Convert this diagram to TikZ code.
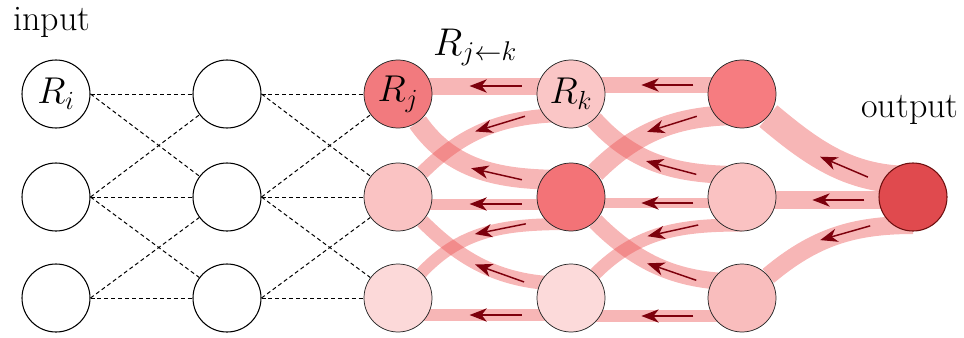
\RequirePackage{fix-cm}
\documentclass[tikz,border=0pt]{standalone}
\usetikzlibrary{arrows.meta,calc,decorations.markings}
\pgfdeclarelayer{bands}
\pgfdeclarelayer{arrs}
\pgfsetlayers{bands,arrs,main}

\definecolor{bandred}{RGB}{236,80,80}
\definecolor{arrred}{RGB}{125,0,12}
\definecolor{rA}{RGB}{242,122,126}
\definecolor{rB}{RGB}{250,195,195}
\definecolor{rC}{RGB}{252,217,217}
\definecolor{rD}{RGB}{250,198,198}
\definecolor{rE}{RGB}{243,115,119}
\definecolor{rF}{RGB}{252,218,218}
\definecolor{rG}{RGB}{246,124,128}
\definecolor{rH}{RGB}{250,194,194}
\definecolor{rI}{RGB}{249,189,189}
\definecolor{rO}{RGB}{224,74,78}
\definecolor{rOborder}{RGB}{110,16,16}

\tikzset{
  neuron/.style={circle, minimum size=51pt, inner sep=0pt, draw=black, line width=0.8pt, fill=white,
    font=\fontsize{28}{32}\selectfont},
  relneuron/.style={circle, minimum size=51pt, inner sep=0pt, draw=black!85, line width=0.55pt,
    fill=#1, font=\fontsize{28}{32}\selectfont},
  link/.style={dash pattern=on 3pt off 2.2pt, line width=0.75pt, draw=black},
  band/.style={draw=bandred, draw opacity=0.42, line cap=butt},
  relarrow/.style={draw=arrred, line width=1.1pt, -{Stealth[length=13pt,width=10pt,inset=4pt]}},
  arrowmark/.style={postaction={decorate}, decoration={markings,
    mark=at position #1 with {\draw[relarrow] (-20pt,0) -- (19pt,0);}}},
  arrowmark/.default=0.44,
  lbl/.style={anchor=base, font=\fontsize{27}{32}\selectfont},
}

\newcommand\relband[4]{%
  \begin{pgfonlayer}{bands}\draw[band, line width=#4*0.75pt] #1 to[#3] #2;\end{pgfonlayer}%
  \begin{pgfonlayer}{arrs}\path[arrowmark] #1 to[#3] #2;\end{pgfonlayer}}

\begin{document}
\begin{tikzpicture}[x=0.75pt, y=0.75pt]
\useasboundingbox (0,0) rectangle (964,337);

% nodes
\node[neuron] (a1) at (56,243) {$R_i$};
\node[neuron] (a2) at (56,140) {};
\node[neuron] (a3) at (56,39) {};
\node[neuron] (b1) at (227,243) {};
\node[neuron] (b2) at (227,140) {};
\node[neuron] (b3) at (227,39) {};
\node[relneuron=rA] (c1) at (398,243) {$R_j$};
\node[relneuron=rB] (c2) at (398,140) {};
\node[relneuron=rC] (c3) at (398,39) {};
\node[relneuron=rD] (d1) at (571,243) {$R_k$};
\node[relneuron=rE] (d2) at (571,140) {};
\node[relneuron=rF] (d3) at (571,39) {};
\node[relneuron=rG] (e1) at (742,243) {};
\node[relneuron=rH] (e2) at (742,140) {};
\node[relneuron=rI] (e3) at (742,39) {};
\node[relneuron=rO, draw=rOborder, line width=0.8pt] (o) at (913,140) {};

% labels
\node[lbl] (lin) at (52,307) {input};
\node[lbl, font=\fontsize{29}{33}\selectfont] (ljk) at (475,282) {$R_{j\leftarrow k}$};
\node[lbl] (lout) at (910,220) {output};

% dashed forward connections
\begin{pgfonlayer}{bands}
\foreach \l/\r in {a1/b1,a1/b2,a2/b1,a2/b2,a2/b3,a3/b2,a3/b3,
                   b1/c1,b1/c2,b2/c1,b2/c2,b2/c3,b3/c2,b3/c3}
  \draw[link] (\l.east) -- (\r);
\end{pgfonlayer}

% relevance bands, gap c-d
\relband{($(d1)+(0,8)$)}{($(c1)+(0,8)$)}{out=180,in=0}{17}
\relband{($(d1)+(0,-21)$)}{(c2)}{out=180,in=45}{14}
\relband{($(d2)+(0,17)$)}{(c1)}{out=180,in=-55}{20}
\relband{($(d2)+(0,-7)$)}{($(c2)+(0,-7)$)}{out=180,in=0}{11}
\relband{($(d2)+(0,-27)$)}{(c3)}{out=180,in=47}{12}
\relband{($(d3)+(0,14)$)}{(c2)}{out=180,in=-45}{14}
\relband{($(d3)+(0,-17)$)}{($(c3)+(0,-17)$)}{out=180,in=0}{12}

% gap d-e
\relband{($(e1)+(0,9)$)}{($(d1)+(0,9)$)}{out=180,in=0}{16}
\relband{($(e1)+(0,-21)$)}{(d2)}{out=180,in=45}{20}
\relband{($(e2)+(0,22)$)}{(d1)}{out=180,in=-48}{18}
\relband{($(e2)+(0,-6)$)}{($(d2)+(0,-6)$)}{out=180,in=0}{10}
\relband{($(e2)+(0,-28)$)}{(d3)}{out=180,in=45}{13}
\relband{($(e3)+(0,16)$)}{(d2)}{out=180,in=-45}{17}
\relband{($(e3)+(0,-18)$)}{($(d3)+(0,-18)$)}{out=180,in=0}{12}

% gap e-output
\relband{($(o)+(0,17)$)}{(e1)}{out=180,in=-40}{28}
\relband{($(o)+(0,-3)$)}{($(e2)+(0,-3)$)}{out=180,in=0}{18}
\relband{($(o)+(0,-28)$)}{(e3)}{out=180,in=40}{18}

\end{tikzpicture}
\end{document}
